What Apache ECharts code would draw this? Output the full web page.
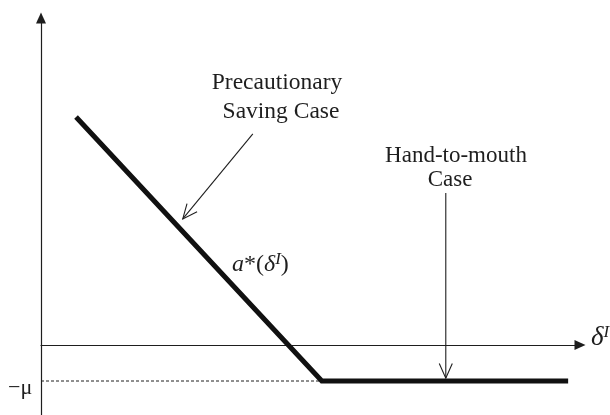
<!DOCTYPE html>
<html>
<head>
<meta charset="utf-8">
<script src="https://cdn.jsdelivr.net/npm/echarts@6/dist/echarts.min.js"></script>
<style>
  html, body { margin: 0; padding: 0; background: #fff; }
  #chart { width: 610px; height: 415px; }
</style>
</head>
<body>
<div id="chart"></div>
<script>
// a*(delta^I): falling line, then flat at -mu
var curveX = [6.5, 52.1, 97.8];
var curveY = [6.33, -1, -1];
var muLevel = -1;
var dashX = [0, 52.1];
// annotation arrows: [x from, y from, x to, y to]
var arrows = [
    [39.3, 5.86, 26.3, 3.5],
    [75.1, 4.22, 75.1, -0.92]
];

var ink = '#1e1e1e';
var serif = 'Liberation Serif';

var chart = echarts.init(document.getElementById('chart'));

var curveData = curveX.map(function (x, i) { return [x, curveY[i]]; });
var dashData = dashX.map(function (x) { return [x, muLevel]; });

var option = {
    animation: false,
    backgroundColor: '#fff',
    grid: { left: 41, right: 30, top: 18, bottom: 0 },
    xAxis: {
        type: 'value',
        min: 0,
        max: 100,
        axisLine: {
            onZero: true,
            symbol: ['none', 'triangle'],
            symbolSize: [10, 11],
            lineStyle: { color: ink, width: 1.2 }
        },
        axisTick: { show: false },
        axisLabel: { show: false },
        splitLine: { show: false }
    },
    yAxis: {
        type: 'value',
        min: -1.944,
        max: 9.08,
        axisLine: {
            show: true,
            symbol: ['none', 'triangle'],
            symbolSize: [10, 11],
            lineStyle: { color: ink, width: 1.2 }
        },
        axisTick: { show: false },
        axisLabel: { show: false },
        splitLine: { show: false }
    },
    series: [
        {
            type: 'line',
            data: dashData,
            symbol: 'none',
            silent: true,
            lineStyle: { color: ink, width: 1, type: [3, 2] },
            z: 2
        },
        {
            type: 'line',
            data: curveData,
            symbol: 'none',
            silent: true,
            lineStyle: { color: '#111', width: 5, join: 'miter', cap: 'butt' },
            z: 3
        },
        {
            type: 'custom',
            data: arrows,
            silent: true,
            z: 4,
            renderItem: function (params, api) {
                var p0 = api.coord([api.value(0), api.value(1)]);
                var p1 = api.coord([api.value(2), api.value(3)]);
                var ang = Math.atan2(p1[1] - p0[1], p1[0] - p0[0]);
                var len = 16, spread = 0.42;
                var w1 = [p1[0] - len * Math.cos(ang - spread), p1[1] - len * Math.sin(ang - spread)];
                var w2 = [p1[0] - len * Math.cos(ang + spread), p1[1] - len * Math.sin(ang + spread)];
                return {
                    type: 'group',
                    children: [
                        {
                            type: 'line',
                            shape: { x1: p0[0], y1: p0[1], x2: p1[0], y2: p1[1] },
                            style: { stroke: ink, lineWidth: 1.1 }
                        },
                        {
                            type: 'polyline',
                            shape: { points: [w1, p1, w2] },
                            style: { stroke: ink, fill: null, lineWidth: 1.1 }
                        }
                    ]
                };
            }
        }
    ],
    graphic: [
        {
            type: 'text', x: 277, y: 83,
            style: { text: 'Precautionary', font: '23.5px "Liberation Serif"', fill: ink, align: 'center', verticalAlign: 'middle' }
        },
        {
            type: 'text', x: 281, y: 112,
            style: { text: 'Saving Case', font: '23.5px "Liberation Serif"', fill: ink, align: 'center', verticalAlign: 'middle' }
        },
        {
            type: 'text', x: 456, y: 156,
            style: { text: 'Hand-to-mouth', font: '23px "Liberation Serif"', fill: ink, align: 'center', verticalAlign: 'middle' }
        },
        {
            type: 'text', x: 450, y: 180,
            style: { text: 'Case', font: '23px "Liberation Serif"', fill: ink, align: 'center', verticalAlign: 'middle' }
        },
        {
            type: 'text', x: 232, y: 265,
            style: {
                text: '{it|a}{rm|*(}{it|δ}{sup|I}{rm|)}',
                fill: ink,
                align: 'left',
                verticalAlign: 'middle',
                rich: {
                    it: { fontFamily: serif, fontStyle: 'italic', fontSize: 24, lineHeight: 28, fill: ink },
                    rm: { fontFamily: serif, fontSize: 24, lineHeight: 28, fill: ink },
                    sup: { fontFamily: serif, fontStyle: 'italic', fontSize: 17, lineHeight: 17, verticalAlign: 'top', fill: ink }
                }
            }
        },
        {
            type: 'text', x: 591, y: 338,
            style: {
                text: '{it|δ}{sup|I}',
                fill: ink,
                align: 'left',
                verticalAlign: 'middle',
                rich: {
                    it: { fontFamily: serif, fontStyle: 'italic', fontSize: 27, lineHeight: 28, fill: ink },
                    sup: { fontFamily: serif, fontStyle: 'italic', fontSize: 17, lineHeight: 17, verticalAlign: 'top', fill: ink }
                }
            }
        },
        {
            type: 'text', x: 8, y: 388,
            style: { text: '−μ', font: '22px "Liberation Serif"', fill: ink, align: 'left', verticalAlign: 'middle' }
        }
    ]
};

chart.setOption(option);
</script>
</body>
</html>
